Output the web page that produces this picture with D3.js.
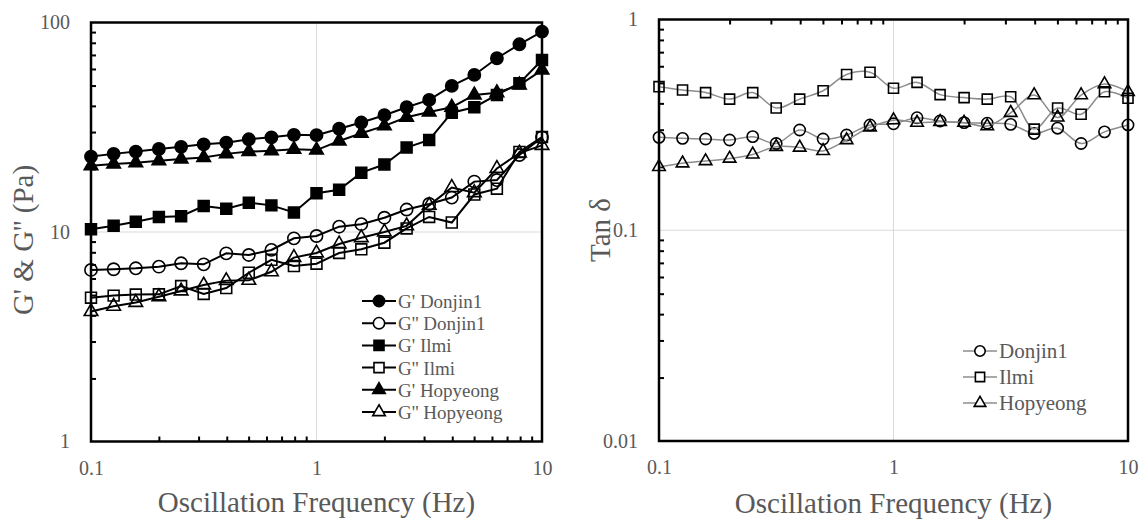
<!DOCTYPE html>
<html>
<head>
<meta charset="utf-8">
<script src="https://cdn.jsdelivr.net/npm/d3@7"></script>
<style>
  body { margin: 0; background: #fff; }
  svg text { font-family: "Liberation Serif", "Times New Roman", serif; fill: #595959; }
</style>
</head>
<body>
<svg id="chart" width="1140" height="521"></svg>
<script>
// frequency sweep (Hz)
var freq = [0.1, 0.126, 0.158, 0.2, 0.251, 0.316, 0.398, 0.501, 0.631, 0.794, 1,
            1.26, 1.58, 2, 2.51, 3.16, 3.98, 5.01, 6.31, 7.94, 10];

// moduli (Pa)
var gpDonjin  = [22.9, 23.6, 24.2, 24.9, 25.5, 26.2, 26.7, 27.7, 28.3, 29.1, 29.0, 31.1, 33.3, 36.1, 39.4, 42.7, 49.8, 56.2, 67.5, 78.7, 90.4];
var gppDonjin = [6.59, 6.64, 6.71, 6.83, 7.09, 7.01, 7.91, 7.77, 8.21, 9.33, 9.57, 10.6, 10.9, 11.7, 12.8, 13.6, 14.6, 17.4, 17.7, 23.3, 28.3];
var gpIlmi    = [10.3, 10.7, 11.2, 11.8, 11.9, 13.3, 12.9, 13.8, 13.4, 12.4, 15.3, 15.9, 19.2, 21.0, 25.3, 27.5, 37.1, 39.4, 45.1, 51.3, 66.2];
var gppIlmi   = [4.86, 4.97, 5.03, 5.04, 5.52, 5.06, 5.40, 6.39, 7.37, 6.88, 7.06, 7.94, 8.27, 8.89, 10.4, 11.8, 11.1, 15.1, 16.1, 24.1, 28.4];
var gpHop     = [20.7, 21.1, 21.4, 21.9, 22.3, 22.7, 23.6, 24.2, 24.4, 24.8, 24.6, 27.2, 29.6, 32.1, 35.3, 37.4, 39.4, 45.1, 46.2, 50.3, 59.3];
var gppHop    = [4.17, 4.42, 4.61, 4.91, 5.23, 5.58, 5.86, 5.88, 6.46, 7.55, 7.94, 8.76, 9.39, 10.0, 10.7, 13.4, 16.3, 15.4, 20.1, 23.8, 25.9];

// tan delta
var tanDonjin = [0.276, 0.273, 0.271, 0.268, 0.278, 0.258, 0.299, 0.271, 0.283, 0.316, 0.320, 0.342, 0.330, 0.324, 0.322, 0.318, 0.288, 0.305, 0.258, 0.293, 0.316];
var tanIlmi   = [0.480, 0.463, 0.450, 0.419, 0.450, 0.380, 0.419, 0.459, 0.548, 0.562, 0.472, 0.503, 0.440, 0.426, 0.419, 0.430, 0.302, 0.380, 0.355, 0.454, 0.423];
var tanHop    = [0.200, 0.208, 0.213, 0.219, 0.229, 0.249, 0.247, 0.238, 0.268, 0.308, 0.333, 0.324, 0.327, 0.324, 0.312, 0.361, 0.438, 0.343, 0.438, 0.494, 0.454];

var modNames = ["G' Donjin1", "G'' Donjin1", "G' Ilmi", "G'' Ilmi", "G' Hopyeong", "G'' Hopyeong"];
var tanNames = ["Donjin1", "Ilmi", "Hopyeong"];

var xTicks = [0.1, 1, 10];
var xMinor = [0.2, 0.3, 0.4, 0.5, 0.6, 0.7, 0.8, 0.9, 2, 3, 4, 5, 6, 7, 8, 9];

var svg = d3.select('#chart');

function minorOf(lo, hi){
    // minor ticks of a log decade range
    var out = [];
    for (var p = lo; p < hi; p *= 10){
        for (var k = 2; k <= 9; k++) out.push(+(k * p).toPrecision(3));
    }
    return out;
}

function symbolFor(name){
    if (/Donjin/.test(name)) return d3.symbolCircle;
    if (/Ilmi/.test(name)) return d3.symbolSquare;
    return d3.symbolTriangle;
}

function symbolSize(name){
    if (/Donjin/.test(name)) return 118;
    if (/Ilmi/.test(name)) return 118;
    return 80;
}

function drawPanel(cfg){
    var x = d3.scaleLog().domain([0.1, 10]).range([cfg.x0, cfg.x1]);
    var y = d3.scaleLog().domain(cfg.yDomain).range([cfg.y1, cfg.y0]);
    var g = svg.append('g');

    // grid lines (major only)
    g.append('line')
        .attr('x1', x(1)).attr('x2', x(1))
        .attr('y1', cfg.y0).attr('y2', cfg.y1)
        .attr('stroke', '#d9d9d9').attr('stroke-width', 1);
    g.append('line')
        .attr('x1', cfg.x0).attr('x2', cfg.x1)
        .attr('y1', y(cfg.yGrid)).attr('y2', y(cfg.yGrid))
        .attr('stroke', '#d9d9d9').attr('stroke-width', 1);

    // minor ticks, inside
    var yAx = g.append('g')
        .attr('transform', 'translate(' + cfg.x0 + ',0)')
        .call(d3.axisLeft(y).tickValues(minorOf(cfg.yDomain[0], cfg.yDomain[1])).tickSize(-5).tickFormat(''));
    var xAx = g.append('g')
        .attr('transform', 'translate(0,' + (cfg.xTop ? cfg.y0 : cfg.y1) + ')')
        .call((cfg.xTop ? d3.axisTop(x) : d3.axisBottom(x)).tickValues(xMinor).tickSize(-5).tickFormat(''));
    [yAx, xAx].forEach(function(a){
        a.select('.domain').remove();
        a.selectAll('line').attr('stroke', '#000').attr('stroke-width', 2);
    });

    // tick labels
    g.append('g')
        .attr('transform', 'translate(' + cfg.x0 + ',0)')
        .call(d3.axisLeft(y).tickValues(cfg.yTicks).tickSize(0).tickPadding(21).tickFormat(function(d){ return String(d); }))
        .call(function(a){
            a.select('.domain').remove();
            a.selectAll('text').attr('font-size', 20).style('fill', '#595959')
                .style('font-family', '"Liberation Serif", serif');
        });
    g.append('g')
        .attr('transform', 'translate(0,' + cfg.y1 + ')')
        .call(d3.axisBottom(x).tickValues(xTicks).tickSize(0).tickPadding(19).tickFormat(function(d){ return String(d); }))
        .call(function(a){
            a.select('.domain').remove();
            a.selectAll('text').attr('font-size', 20).style('fill', '#595959')
                .style('font-family', '"Liberation Serif", serif');
        });

    // series
    var line = d3.line()
        .x(function(d){ return x(d[0]); })
        .y(function(d){ return y(d[1]); })
        .curve(cfg.smooth ? d3.curveCatmullRom : d3.curveLinear);

    cfg.series.forEach(function(s){
        var pts = freq.map(function(f, i){ return [f, s.values[i]]; });
        g.append('path')
            .datum(pts)
            .attr('d', line)
            .attr('fill', 'none')
            .attr('stroke', cfg.lineColor)
            .attr('stroke-width', cfg.lineWidth);
        g.selectAll(null)
            .data(pts)
            .enter().append('path')
            .attr('transform', function(d){ return 'translate(' + x(d[0]) + ',' + y(d[1]) + ')'; })
            .attr('d', d3.symbol().type(symbolFor(s.name)).size(symbolSize(s.name) * cfg.markScale))
            .attr('fill', s.filled ? '#000' : 'none')
            .attr('stroke', '#000')
            .attr('stroke-width', 1.6);
    });

    // legend
    var lg = g.append('g');
    cfg.series.forEach(function(s, i){
        var cy = cfg.legY + i * cfg.legDy;
        lg.append('line')
            .attr('x1', cfg.legX).attr('x2', cfg.legX + 34)
            .attr('y1', cy).attr('y2', cy)
            .attr('stroke', cfg.legLine).attr('stroke-width', cfg.lineWidth);
        lg.append('path')
            .attr('transform', 'translate(' + (cfg.legX + 17) + ',' + cy + ')')
            .attr('d', d3.symbol().type(symbolFor(s.name)).size(symbolSize(s.name) * cfg.markScale * 0.85))
            .attr('fill', s.filled ? '#000' : '#fff')
            .attr('stroke', '#000')
            .attr('stroke-width', 1.6);
        lg.append('text')
            .attr('x', cfg.legX + 36).attr('y', cy + 7)
            .attr('font-size', cfg.legFont)
            .text(s.name);
    });

    // frame
    g.append('rect')
        .attr('x', cfg.x0).attr('y', cfg.y0)
        .attr('width', cfg.x1 - cfg.x0).attr('height', cfg.y1 - cfg.y0)
        .attr('fill', 'none').attr('stroke', '#000').attr('stroke-width', 2.5);

    // axis titles
    g.append('text')
        .attr('x', (cfg.x0 + cfg.x1) / 2).attr('y', cfg.xTitleY)
        .attr('text-anchor', 'middle').attr('font-size', 29)
        .text('Oscillation Frequency (Hz)');
    g.append('text')
        .attr('transform', 'translate(' + cfg.yTitleX + ',' + cfg.yTitleY + ') rotate(-90)')
        .attr('text-anchor', 'middle').attr('font-size', 29)
        .text(cfg.yTitle);
}

drawPanel({
    x0: 91, x1: 542, y0: 22.5, y1: 441.5,
    yDomain: [1, 100], yTicks: [1, 10, 100], yGrid: 10,
    xTop: false, smooth: false,
    lineColor: '#000', lineWidth: 2, markScale: 1,
    legX: 362, legY: 301, legDy: 22.2, legFont: 19, legLine: '#000',
    xTitleY: 512, yTitleX: 33, yTitleY: 240, yTitle: "G' & G'' (Pa)",
    series: [
        {name: modNames[0], values: gpDonjin, filled: true},
        {name: modNames[1], values: gppDonjin, filled: false},
        {name: modNames[2], values: gpIlmi, filled: true},
        {name: modNames[3], values: gppIlmi, filled: false},
        {name: modNames[4], values: gpHop, filled: true},
        {name: modNames[5], values: gppHop, filled: false}
    ]
});

drawPanel({
    x0: 659, x1: 1128, y0: 19.5, y1: 441,
    yDomain: [0.01, 1], yTicks: [0.01, 0.1, 1], yGrid: 0.1,
    xTop: true, smooth: true,
    lineColor: '#8c8c8c', lineWidth: 1.5, markScale: 0.85,
    legX: 963, legY: 351, legDy: 26, legFont: 21, legLine: '#8c8c8c',
    xTitleY: 513, yTitleX: 610, yTitleY: 230, yTitle: 'Tan δ',
    series: [
        {name: tanNames[0], values: tanDonjin, filled: false},
        {name: tanNames[1], values: tanIlmi, filled: false},
        {name: tanNames[2], values: tanHop, filled: false}
    ]
});
</script>
</body>
</html>
